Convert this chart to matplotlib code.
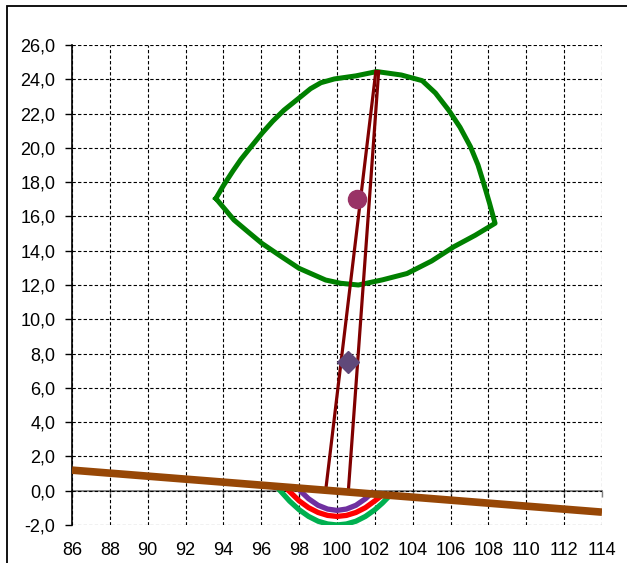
import matplotlib
matplotlib.use("Agg")
import matplotlib.pyplot as plt
from matplotlib.patches import Rectangle
from matplotlib.ticker import FuncFormatter

plt.rcParams['font.family'] = ['Liberation Sans', 'DejaVu Sans']

# ---- data ----
cap_x = [93.6, 94.0, 94.5, 94.92, 95.5, 96.06, 96.6, 97.2, 98.1, 98.6, 99.15, 99.86, 101.0, 102.1,
         103.4, 104.5, 105.2, 105.9, 106.5, 107.05, 107.45, 107.75, 108.05, 108.35,
         107.3, 106.17, 105.0, 103.7, 102.4, 101.13, 100.2, 99.4, 98.0, 97.0, 96.03,
         95.3, 94.56, 93.6]
cap_y = [17.05, 17.8, 18.65, 19.32, 20.12, 20.88, 21.55, 22.2, 23.0, 23.45, 23.8, 24.02, 24.2, 24.45,
         24.25, 23.92, 23.2, 22.2, 21.2, 20.07, 19.0, 17.93, 16.8, 15.6,
         14.9, 14.23, 13.4, 12.67, 12.3, 12.0, 12.1, 12.29, 12.97, 13.7, 14.43,
         15.1, 15.79, 17.05]

stem1_x = [99.4, 102.05]
stem1_y = [0.0, 24.45]
stem2_x = [100.6, 102.2]
stem2_y = [0.0, 24.45]

circle_x = [101.05]
circle_y = [17.0]
diamond_x = [100.6]
diamond_y = [7.5]

green_x = [97.0, 97.5, 98.0, 98.5, 99.0, 99.5, 100.0, 100.5, 101.0, 101.5, 102.0, 102.4, 102.7]
green_y = [0.0, -0.61, -1.11, -1.5, -1.78, -1.94, -2.0, -1.94, -1.78, -1.5, -1.11, -0.72, -0.38]

red_x = [97.45, 98.0, 98.5, 99.0, 99.5, 100.0, 100.5, 101.0, 101.5, 102.0, 102.2]
red_y = [0.0, -0.59, -0.99, -1.27, -1.44, -1.5, -1.44, -1.27, -0.99, -0.59, -0.42]

purple_x = [98.05, 98.5, 99.0, 99.5, 100.0, 100.5, 101.0, 101.5, 101.85]
purple_y = [0.0, -0.47, -0.85, -1.07, -1.15, -1.07, -0.85, -0.47, -0.12]

brown_x = [86, 114]
brown_y = [1.2, -1.25]

xticks = list(range(86, 115, 2))
yticks = list(range(-2, 27, 2))

# ---- figure ----
W, H = 627, 563
fig = plt.figure(figsize=(W / 100, H / 100), dpi=100)
fig.patch.set_facecolor('white')
fig.patches.append(Rectangle((7 / W, -0.1), 2.0, 1 - 6 / H + 0.1, transform=fig.transFigure,
                             fill=False, edgecolor='black', lw=1.3))

ax = fig.add_axes([72 / W, 1 - 525 / H, 530 / W, 480 / H])
ax.set_xlim(86, 114)
ax.set_ylim(-2, 26)
ax.set_xticks(xticks)
ax.set_yticks(yticks)
ax.yaxis.set_major_formatter(FuncFormatter(lambda v, p: f"{v:.1f}".replace('.', ',')))
ax.grid(True, color='black', linestyle=(0, (3, 2)), lw=0.8)
ax.set_axisbelow(True)
for s in ['top', 'right', 'bottom']:
    ax.spines[s].set_visible(False)
ax.spines['left'].set_color('black')
ax.spines['left'].set_linewidth(1.2)
ax.tick_params(axis='x', length=0, pad=12, labelsize=13)
ax.tick_params(axis='y', length=5, direction='out', pad=7, labelsize=13, width=1)

sec = ax.secondary_xaxis(2 / 28)
sec.set_xticks(xticks)
sec.set_xticklabels([])
sec.tick_params(length=4, direction='out', color='#808080', width=1)
sec.spines['bottom'].set_color('#808080')
sec.spines['bottom'].set_linewidth(1.3)

ax.plot(cap_x, cap_y, color='#008000', lw=3.6, solid_joinstyle='round', zorder=3)
ax.plot(stem1_x, stem1_y, color='#800000', lw=2.3, zorder=4)
ax.plot(stem2_x, stem2_y, color='#800000', lw=2.3, zorder=4)
ax.plot(circle_x, circle_y, 'o', color='#993366', ms=13, zorder=5)
ax.plot(diamond_x, diamond_y, 'D', color='#60497A', ms=11.5, zorder=5)
ax.plot(green_x, green_y, color='#00B050', lw=3.8, zorder=6)
ax.plot(red_x, red_y, color='#FF0000', lw=3.8, zorder=7)
ax.plot(purple_x, purple_y, color='#7030A0', lw=3.8, zorder=8)
ax.plot(brown_x, brown_y, color='#974706', lw=5.5, zorder=9, solid_capstyle='butt')

fig.savefig('out.png', dpi=100)
